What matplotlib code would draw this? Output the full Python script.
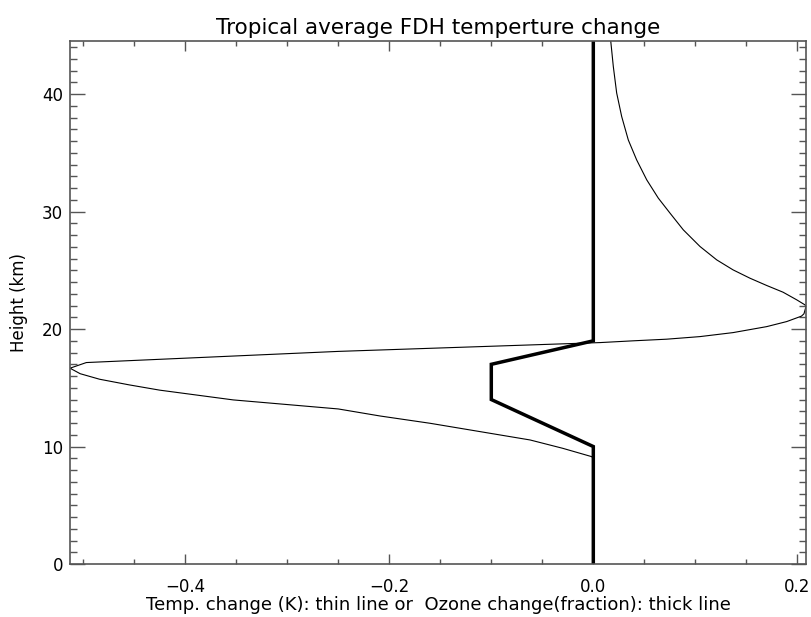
import matplotlib
matplotlib.use("Agg")
import matplotlib.pyplot as plt
from matplotlib.ticker import MultipleLocator, FuncFormatter

# Temperature change (thin line): height (km) and value (K)
temp_height = [0, 2, 4, 6, 8, 9.0, 9.14, 9.85, 10.56, 11.27, 11.98, 12.6, 13.2, 13.97,
               14.8, 15.25, 15.73, 16.2, 16.67, 17.15, 18.1, 18.85,
               19.0, 19.14, 19.36, 19.7, 20.21, 20.64, 21.1, 21.3, 21.92,
               22.06, 22.49, 23.14, 23.71, 24.33, 25.04, 25.89, 27.03, 28.45,
               29.87, 31.15, 32.7, 34.4, 36.1, 38.1, 40.1, 42.36, 44.6]
temp_change = [0.0, 0.0, 0.0, 0.0, 0.0, 0.0, -0.0016, -0.030, -0.062, -0.111, -0.160,
               -0.209, -0.250, -0.353, -0.425, -0.455, -0.484, -0.503, -0.513, -0.497,
               -0.250, 0.0066,
               0.039, 0.072, 0.1046, 0.137, 0.170, 0.1896, 0.204, 0.2065, 0.2085,
               0.2075, 0.1994, 0.186, 0.170, 0.1536, 0.137, 0.121, 0.1046, 0.0882,
               0.0752, 0.0637, 0.0524, 0.0425, 0.0343, 0.0278, 0.0229, 0.0196, 0.0170]

# Ozone change (thick line): height (km) and fraction
ozone_height = [0, 10, 14, 17, 19, 44.6]
ozone_change = [0.0, 0.0, -0.1, -0.1, 0.0, 0.0]

title = "Tropical average FDH temperture change"
xlabel = "Temp. change (K): thin line or  Ozone change(fraction): thick line"
ylabel = "Height (km)"

plt.rcParams['font.family'] = ['DejaVu Sans']
fig = plt.figure(figsize=(8.12, 6.17), dpi=100)
ax = fig.add_axes([70/812, 53/617, 736/812, 522.7/617])

ax.plot(temp_change, temp_height, color='black', lw=0.8)
ax.plot(ozone_change, ozone_height, color='black', lw=2.5, solid_joinstyle='miter')

ax.set_xlim(min(temp_change), max(temp_change))
ax.set_ylim(0, 44.5)

ax.xaxis.set_major_locator(MultipleLocator(0.2))
ax.xaxis.set_minor_locator(MultipleLocator(0.05))
ax.yaxis.set_major_locator(MultipleLocator(10))
ax.yaxis.set_minor_locator(MultipleLocator(1))

axcol = '#555555'
for s in ax.spines.values():
    s.set_color(axcol)
    s.set_linewidth(1.2)

ax.tick_params(axis='x', which='major', direction='in', length=7.5, width=1.0,
               color=axcol, top=True, bottom=True, labelsize=12, pad=10)
ax.tick_params(axis='x', which='minor', direction='in', length=3.8, width=1.0,
               color=axcol, top=True, bottom=True)
ax.tick_params(axis='y', which='major', direction='in', length=10.5, width=1.0,
               color=axcol, left=True, right=True, labelsize=12, pad=5)
ax.tick_params(axis='y', which='minor', direction='in', length=5.3, width=1.0,
               color=axcol, left=True, right=True)

ax.xaxis.set_major_formatter(FuncFormatter(
    lambda v, p: ("\u2212" if v < -1e-9 else "") + f"{abs(v):.1f}"))
ax.yaxis.set_major_formatter(FuncFormatter(lambda v, p: f"{v:.0f}"))

ax.set_title(title, fontsize=15.5, pad=5)
ax.set_xlabel(xlabel, fontsize=13, labelpad=0)
ax.set_ylabel(ylabel, fontsize=12, labelpad=10)

fig.savefig("out.png", dpi=100, facecolor='white')
